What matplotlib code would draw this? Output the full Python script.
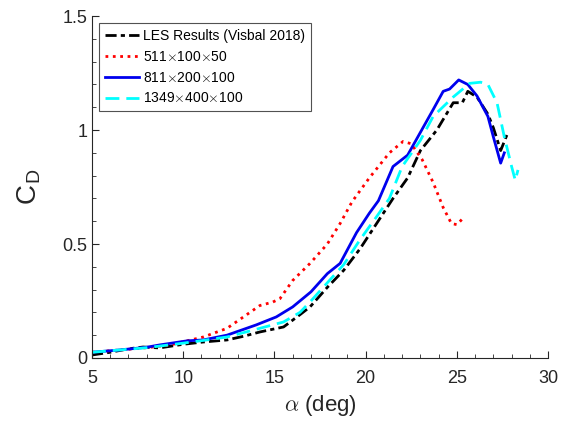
import matplotlib
matplotlib.use('Agg')
import matplotlib.pyplot as plt
from matplotlib.ticker import MultipleLocator

plt.rcParams['font.family'] = ['Liberation Sans', 'DejaVu Sans']
plt.rcParams['mathtext.fontset'] = 'cm'

# LES reference (Visbal 2018)
les_a = [5.0, 6.0, 7.0, 7.8, 8.7, 10.0, 11.1, 12.4, 13.3, 14.2, 15.5, 16.4, 16.95,
         17.9, 18.8, 19.7, 20.6, 21.5, 22.3, 23.0, 23.9, 24.8, 25.3, 25.6, 26.1,
         26.7, 27.0, 27.4, 27.8]
les_cd = [0.013, 0.025, 0.04, 0.048, 0.044, 0.06, 0.07, 0.079, 0.095, 0.114, 0.136, 0.19, 0.224,
          0.31, 0.385, 0.48, 0.59, 0.70, 0.79, 0.91, 1.0, 1.12, 1.12, 1.17, 1.145,
          1.07, 1.01, 0.91, 0.99]

# 511x100x50
g1_a = [5.0, 6.5, 8.0, 9.3, 10.2, 11.1, 12.4, 13.3, 14.2, 14.9, 15.3, 16.0, 16.95,
        17.9, 18.6, 19.25, 20.2, 21.3, 22.05, 22.5, 23.1, 23.7, 24.25, 24.7, 25.0, 25.3]
g1_cd = [0.025, 0.035, 0.045, 0.057, 0.075, 0.092, 0.13, 0.18, 0.23, 0.245, 0.26, 0.34, 0.415,
         0.50, 0.59, 0.685, 0.79, 0.90, 0.95, 0.94, 0.87, 0.77, 0.66, 0.59, 0.585, 0.61]

# 811x200x100
g2_a = [5.0, 6.5, 8.0, 8.7, 10.2, 11.1, 12.4, 14.0, 15.1, 16.0, 17.0, 17.9, 18.6,
        19.5, 20.2, 20.7, 21.5, 22.3, 23.0, 23.7, 24.25, 24.6, 25.1, 25.6, 26.1,
        26.7, 27.0, 27.4, 27.6]
g2_cd = [0.025, 0.035, 0.047, 0.057, 0.075, 0.079, 0.10, 0.145, 0.18, 0.224, 0.29, 0.37, 0.415,
         0.55, 0.635, 0.69, 0.84, 0.89, 0.99, 1.09, 1.17, 1.18, 1.22, 1.20, 1.15,
         1.06, 0.97, 0.855, 0.90]

# 1349x400x100
g3_a = [5.0, 6.5, 8.0, 10.0, 11.1, 12.4, 14.2, 15.5, 16.4, 17.0, 17.9, 18.8, 19.7,
        20.6, 21.3, 22.0, 23.0, 23.7, 24.8, 25.7, 26.3, 26.7, 27.2, 27.6, 28.0, 28.2, 28.35]
g3_cd = [0.025, 0.035, 0.045, 0.065, 0.077, 0.092, 0.13, 0.158, 0.20, 0.25, 0.33, 0.41, 0.52,
         0.62, 0.70, 0.84, 0.955, 1.06, 1.145, 1.205, 1.21, 1.2, 1.12, 0.97, 0.84, 0.78, 0.825]

fig = plt.figure(figsize=(5.61, 4.36), dpi=100)
ax = fig.add_axes([0.164, 0.179, 0.813, 0.784])

ax.plot(les_a, les_cd, color='black', lw=2.0, dashes=(4, 1.5, 1.5, 1.5),
        label='LES Results (Visbal 2018)')
ax.plot(g1_a, g1_cd, color='red', lw=2.0, linestyle=':', label='511$\\times$100$\\times$50')
ax.plot(g2_a, g2_cd, color='#0000ee', lw=2.0, linestyle='-', label='811$\\times$200$\\times$100')
ax.plot(g3_a, g3_cd, color='cyan', lw=2.0, dashes=(5, 2.5), label='1349$\\times$400$\\times$100')

ax.set_xlim(5, 30)
ax.set_ylim(0, 1.5)
ax.set_xticks([5, 10, 15, 20, 25, 30])
ax.set_yticks([0, 0.5, 1, 1.5])
ax.set_yticklabels(['0', '0.5', '1', '1.5'])
ax.xaxis.set_minor_locator(MultipleLocator(1))
ax.yaxis.set_minor_locator(MultipleLocator(0.1))
ax.tick_params(which='both', direction='in', colors='#262626', labelsize=13)
ax.tick_params(which='major', length=5)
ax.tick_params(which='minor', length=3)
ax.tick_params(axis='x', which='major', pad=9)
for s in ['top', 'right']:
    ax.spines[s].set_visible(False)
for s in ['left', 'bottom']:
    ax.spines[s].set_color('#262626')

ax.set_xlabel('$\\alpha$ (deg)', fontsize=16, color='#262626', labelpad=4)
ax.set_ylabel('C$_\\mathregular{D}$', fontsize=20, color='#262626', labelpad=14)

leg = ax.legend(loc='upper left', fontsize=10, frameon=True, fancybox=False,
                edgecolor='#262626', handlelength=2.5, borderaxespad=0.5,
                labelspacing=0.5, handletextpad=0.3, borderpad=0.4)
leg.get_frame().set_linewidth(0.8)

fig.savefig('out.png', dpi=100)
